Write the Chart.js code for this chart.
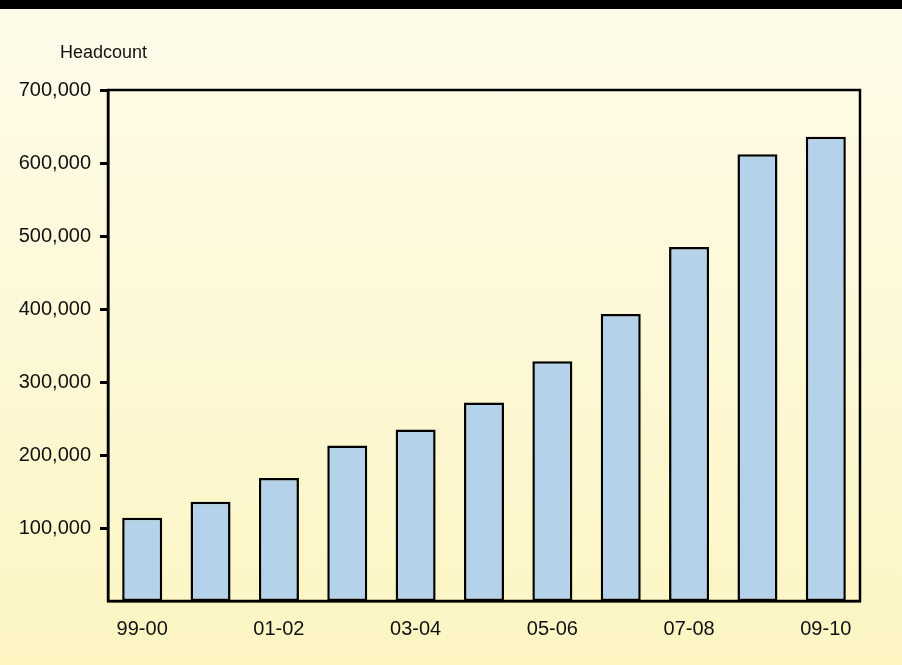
<!DOCTYPE html>
<html>
<head>
<meta charset="utf-8">
<script src="https://cdn.jsdelivr.net/npm/chart.js@4/dist/chart.umd.min.js"></script>
<style>
  html, body { margin: 0; padding: 0; }
  body {
    width: 902px; height: 665px; overflow: hidden;
    background: linear-gradient(to bottom, #000 0px, #000 9px, #fefbea 9px, #fcf5c2 100%);
  }
  #wrap { position: relative; width: 902px; height: 665px; }
</style>
</head>
<body>
<div id="wrap"><canvas id="headcountChart"></canvas></div>
<script>
// Data
const years = ['99-00', '00-01', '01-02', '02-03', '03-04', '04-05', '05-06', '06-07', '07-08', '08-09', '09-10'];
const headcount = [114000, 136000, 168500, 213000, 235000, 272000, 328500, 393000, 485000, 612000, 636000];
const yTicks = [0, 100000, 200000, 300000, 400000, 500000, 600000, 700000];
const axisTitle = 'Headcount';

const font = 'Liberation Sans, Arial, Helvetica, sans-serif';

// Box round the plot area, little tick dashes left of the y axis, and the axis title
const frame = {
    id: 'frame',
    afterDraw(chart) {
        const { ctx, chartArea: a } = chart;
        const y = chart.scales.y;
        ctx.save();
        ctx.strokeStyle = '#000';
        ctx.lineWidth = 2.5;
        ctx.strokeRect(a.left, a.top, a.right - a.left, a.bottom - a.top);
        ctx.lineWidth = 3;
        ctx.lineCap = 'butt';
        for (const v of yTicks) {
            if (v === 0) continue;
            const py = Math.round(y.getPixelForValue(v)) + 0.5;
            ctx.beginPath();
            ctx.moveTo(a.left - 8, py);
            ctx.lineTo(a.left, py);
            ctx.stroke();
        }
        ctx.fillStyle = '#111';
        ctx.font = '18px ' + font;
        ctx.textBaseline = 'middle';
        ctx.fillText(axisTitle, 60, 53);
        ctx.restore();
    }
};

new Chart(document.getElementById('headcountChart'), {
    type: 'bar',
    data: {
        labels: years,
        datasets: [{
            label: axisTitle,
            data: headcount,
            backgroundColor: '#b4d3ea',
            borderColor: '#000',
            borderWidth: 2.5,
            borderSkipped: false,
            categoryPercentage: 1,
            barPercentage: 0.585
        }]
    },
    options: {
        responsive: true,
        maintainAspectRatio: false,
        animation: false,
        layout: { padding: { top: 90, right: 42, left: 0, bottom: 0 } },
        plugins: { legend: { display: false }, tooltip: { enabled: false } },
        scales: {
            x: {
                grid: { display: false, drawTicks: false, tickLength: 0 },
                border: { display: true, color: '#000', width: 2.5 },
                ticks: {
                    autoSkip: false,
                    maxRotation: 0,
                    padding: 16,
                    color: '#111',
                    font: { family: font, size: 20 },
                    callback: (v, i) => (i % 2 === 0 ? years[i] : '')
                },
                afterFit: s => { s.height = 64; }
            },
            y: {
                min: 0,
                max: 700000,
                afterBuildTicks: s => { s.ticks = yTicks.map(v => ({ value: v })); },
                grid: { display: false, drawTicks: false, tickLength: 0 },
                border: { display: true, color: '#000', width: 2.5 },
                ticks: {
                    padding: 17,
                    color: '#111',
                    font: { family: font, size: 20 },
                    callback: v => (v === 0 ? '' : v.toLocaleString('en-US'))
                },
                afterFit: s => { s.width = 108; }
            }
        }
    },
    plugins: [frame]
});
</script>
</body>
</html>
